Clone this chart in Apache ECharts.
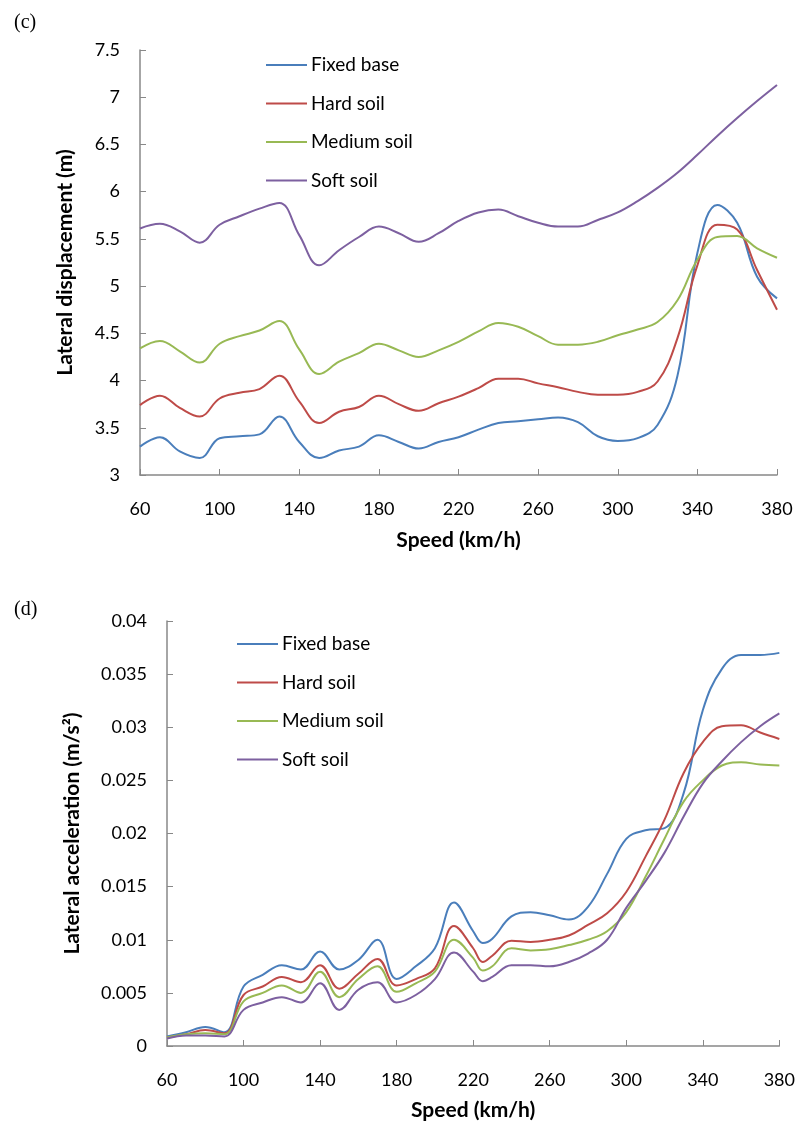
<!DOCTYPE html>
<html>
<head>
<meta charset="utf-8">
<script src="https://cdn.jsdelivr.net/npm/echarts@6/dist/echarts.min.js"></script>
<style>
html,body{margin:0;padding:0;background:#fff;}
#chart{width:798px;height:1126px;}
</style>
</head>
<body>
<div id="chart"></div>
<script>
// ---------- Data ----------
const seriesNames = ['Fixed base', 'Hard soil', 'Medium soil', 'Soft soil'];
const colors = ['#4A7EBB', '#BE4B48', '#98B954', '#7D60A0'];

// (c) Lateral displacement (m)
const speedC = [60,70,80,90,100,110,120,130,140,150,160,170,180,190,200,210,220,230,240,250,260,270,280,290,300,310,320,330,340,350,360,370,380];
const dispFixed  = [3.30,3.40,3.25,3.18,3.39,3.41,3.43,3.62,3.35,3.18,3.26,3.30,3.42,3.35,3.28,3.35,3.40,3.48,3.55,3.57,3.59,3.61,3.56,3.41,3.36,3.39,3.53,4.05,5.35,5.86,5.67,5.10,4.87];
const dispHard   = [3.74,3.84,3.71,3.62,3.81,3.87,3.91,4.05,3.78,3.55,3.67,3.72,3.84,3.75,3.68,3.76,3.83,3.92,4.02,4.02,3.97,3.93,3.88,3.85,3.85,3.88,3.99,4.45,5.22,5.65,5.60,5.17,4.75];
const dispMedium = [4.34,4.42,4.31,4.19,4.39,4.47,4.53,4.63,4.33,4.07,4.20,4.29,4.39,4.32,4.25,4.32,4.41,4.52,4.61,4.57,4.47,4.38,4.38,4.41,4.48,4.54,4.62,4.85,5.28,5.52,5.53,5.40,5.30];
const dispSoft   = [5.61,5.66,5.58,5.46,5.65,5.74,5.82,5.88,5.54,5.22,5.38,5.52,5.63,5.56,5.47,5.56,5.69,5.78,5.81,5.74,5.67,5.63,5.63,5.70,5.78,5.90,6.04,6.20,6.39,6.59,6.78,6.96,7.13];
const yTicksC = [3, 7.5, 0.5];   // min, max, step

// (d) Lateral acceleration (m/s2)
const speedD = [60,70,80,90,100,110,120,130,140,150,160,170,180,190,200,210,220,225,230,240,250,260,270,280,290,300,310,320,330,340,350,360,370,380];
const accFixed  = [0.0009,0.0013,0.0018,0.0013,0.0056,0.0067,0.0076,0.0072,0.0089,0.0072,0.0081,0.0100,0.0063,0.0075,0.0092,0.0135,0.0108,0.0097,0.0101,0.0122,0.0126,0.0123,0.0119,0.0131,0.0162,0.0195,0.0203,0.0205,0.0238,0.0316,0.0355,0.0368,0.0368,0.0370];
const accHard   = [0.0008,0.0011,0.0015,0.0012,0.0048,0.0056,0.0065,0.0060,0.0076,0.0054,0.0068,0.0082,0.0057,0.0063,0.0073,0.0113,0.0092,0.0079,0.0085,0.0099,0.0098,0.0100,0.0104,0.0114,0.0125,0.0145,0.0178,0.0213,0.0257,0.0286,0.0301,0.0302,0.0295,0.0289];
const accMedium = [0.0008,0.0011,0.0012,0.0011,0.0042,0.0050,0.0057,0.0050,0.0070,0.0046,0.0063,0.0075,0.0051,0.0059,0.0070,0.0100,0.0083,0.0071,0.0075,0.0092,0.0090,0.0091,0.0095,0.0100,0.0108,0.0126,0.0159,0.0195,0.0230,0.0250,0.0264,0.0267,0.0265,0.0264];
const accSoft   = [0.0007,0.0010,0.0010,0.0009,0.0034,0.0041,0.0046,0.0041,0.0059,0.0034,0.0053,0.0060,0.0041,0.0048,0.0063,0.0088,0.0070,0.0061,0.0065,0.0076,0.0076,0.0075,0.0079,0.0087,0.0100,0.0130,0.0155,0.0182,0.0216,0.0247,0.0268,0.0286,0.0301,0.0313];
const yTicksD = [0, 0.04, 0.005];
const xTicks = [60, 380, 40];

// ---------- Chart ----------
const FONT = 'Lato';
const axisGray = '#888888';
const chart = echarts.init(document.getElementById('chart'), null, {renderer: 'canvas'});

function pairs(xs, ys) { return xs.map((x, i) => [x, ys[i]]); }

const dataC = [dispFixed, dispHard, dispMedium, dispSoft];
const dataD = [accFixed, accHard, accMedium, accSoft];

function xAxisDef(gridIndex, gap) {
  return {
    type: 'value', gridIndex: gridIndex,
    min: xTicks[0], max: xTicks[1], interval: xTicks[2],
    name: 'Speed (km/h)', nameLocation: 'middle', nameGap: gap,
    nameTextStyle: {fontFamily: FONT, fontWeight: 'bold', fontSize: 21, color: '#000'},
    axisLine: {lineStyle: {color: axisGray, width: 1.5}},
    axisTick: {show: true, inside: true, length: 6, lineStyle: {color: axisGray}},
    axisLabel: {fontFamily: FONT, fontSize: 18, color: '#000', margin: 25},
    splitLine: {show: false}
  };
}
function yAxisDef(gridIndex, ticks, name, gap, dec) {
  return {
    type: 'value', gridIndex: gridIndex,
    min: ticks[0], max: ticks[1], interval: ticks[2],
    name: name, nameLocation: 'middle', nameGap: gap,
    nameTextStyle: {fontFamily: FONT, fontWeight: 'bold', fontSize: 21, color: '#000'},
    axisLine: {show: true, lineStyle: {color: axisGray, width: 1.5}},
    axisTick: {show: true, inside: true, length: 6, lineStyle: {color: axisGray}},
    axisLabel: {fontFamily: FONT, fontSize: 18, color: '#000', margin: 20,
      formatter: v => String(+v.toFixed(dec))},
    splitLine: {show: false}
  };
}

const series = [];
seriesNames.forEach((n, i) => {
  series.push({
    name: n, type: 'line', xAxisIndex: 0, yAxisIndex: 0,
    data: pairs(speedC, dataC[i]), smooth: 0.4, symbol: 'none',
    lineStyle: {color: colors[i], width: 2}, itemStyle: {color: colors[i]}
  });
});
seriesNames.forEach((n, i) => {
  series.push({
    name: n, type: 'line', xAxisIndex: 1, yAxisIndex: 1,
    data: pairs(speedD, dataD[i]), smooth: 0.4, symbol: 'none',
    lineStyle: {color: colors[i], width: 2}, itemStyle: {color: colors[i]}
  });
});

function legendDef(left, top) {
  return {
    data: seriesNames, orient: 'vertical', left: left, top: top,
    icon: 'rect', itemWidth: 41, itemHeight: 2, itemGap: 16.5,
    textStyle: {fontFamily: FONT, fontSize: 19, color: '#000', lineHeight: 22, padding: [0,0,0,-1]},
    selectedMode: false
  };
}

chart.setOption({
  animation: false,
  backgroundColor: '#fff',
  title: [
    {text: '(c)', left: 9, top: 8, textStyle: {fontFamily: 'Liberation Serif', fontWeight: 'normal', fontSize: 20, color: '#000'}},
    {text: '(d)', left: 9, top: 595, textStyle: {fontFamily: 'Liberation Serif', fontWeight: 'normal', fontSize: 20, color: '#000'}}
  ],
  grid: [
    {left: 140, top: 50, width: 637, height: 425, containLabel: false},
    {left: 167, top: 621, width: 617, height: 425, containLabel: false}
  ],
  legend: [legendDef(261, 49), legendDef(232, 628)],
  xAxis: [xAxisDef(0, 55), xAxisDef(1, 54)],
  yAxis: [
    yAxisDef(0, yTicksC, 'Lateral displacement (m)', 64, 1),
    yAxisDef(1, yTicksD, 'Lateral acceleration (m/s²)', 84, 3)
  ],
  series: series
});
</script>
</body>
</html>
